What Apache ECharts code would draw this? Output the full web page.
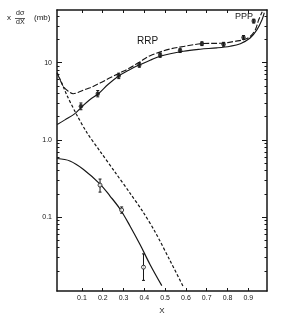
<!DOCTYPE html>
<html><head><meta charset="utf-8">
<script src="https://cdn.jsdelivr.net/npm/echarts@6/dist/echarts.min.js"></script>
<style>html,body{margin:0;padding:0;background:#fff}#c{width:297px;height:320px}</style>
</head><body><div id="c"></div>
<script>
// ---- data ----
const xTickValues = [0.1,0.2,0.3,0.4,0.5,0.6,0.7,0.8,0.9];
const xTickLabels = ['0.1','0.2','0.3','0.4','0.5','0.6','0.7','0.8','0.9'];
const yMajorValues = [0.1, 1, 10];
const yMajorLabels = ['0.1', '1.0', '10'];
const yMinorValues = [0.02,0.03,0.04,0.05,0.06,0.07,0.08,0.09,0.2,0.3,0.4,0.5,0.6,0.7,0.8,0.9,2,3,4,5,6,7,8,9,20,30,40];

// upper long-dashed curve
const upperDashX = [-0.019,0.010,0.034,0.058,0.081,0.110,0.139,0.187,0.235,0.283,0.331,0.380,0.428,0.524,0.596,0.677,0.781,0.837,0.877,0.909,0.934,0.950,0.967];
const upperDashY = [7.36,4.94,4.26,3.95,4.10,4.42,4.72,5.44,6.35,7.36,8.55,10.3,12.3,15.0,16.3,17.6,17.9,18.9,19.8,21.8,26.7,35.9,45.5];
// upper solid curve
const upperSolidX = [-0.019,0.018,0.066,0.099,0.139,0.179,0.225,0.275,0.322,0.371,0.428,0.476,0.588,0.669,0.749,0.813,0.862,0.909,0.942,0.966,0.977];
const upperSolidY = [1.58,1.81,2.18,2.67,3.33,3.95,5.20,6.66,7.88,9.23,10.7,12.1,14.0,14.9,15.5,16.3,17.6,20.8,26.7,35.9,44.2];
// steep short-dashed curve
const steepDashX = [-0.019,0.004,0.026,0.074,0.123,0.187,0.259,0.331,0.394,0.452,0.524,0.588];
const steepDashY = [7.36,5.36,3.86,2.13,1.25,0.711,0.381,0.204,0.116,0.064,0.0271,0.0124];
// lower solid curve
const lowerSolidX = [-0.019,0.042,0.106,0.187,0.235,0.283,0.331,0.380,0.428,0.484];
const lowerSolidY = [0.572,0.532,0.416,0.267,0.187,0.127,0.0766,0.0436,0.0241,0.0129];

// filled data points with error bars
const upperPtX  = [0.095,0.176,0.277,0.376,0.476,0.572,0.677,0.781,0.877,0.926];
const upperPtY  = [2.71,3.95,6.74,9.34,12.5,14.3,17.6,17.3,21.2,34.5];
const upperPtLo = [2.45,3.60,6.20,8.70,11.7,13.5,16.6,16.3,20.0,32.5];
const upperPtHi = [3.00,4.35,7.30,10.0,13.3,15.1,18.6,18.3,22.4,36.5];
// open data points with error bars
const lowerPtX  = [0.187,0.291,0.396];
const lowerPtY  = [0.259,0.123,0.0224];
const lowerPtLo = [0.210,0.112,0.0151];
const lowerPtHi = [0.310,0.135,0.0333];

const zip = (a,b) => a.map((v,i)=>[v,b[i]]);
const zip3 = (a,b,c) => a.map((v,i)=>[v,b[i],c[i]]);

const FONT = 'Liberation Sans, DejaVu Sans, sans-serif';
const INK = '#161616';

const chart = echarts.init(document.getElementById('c'), null, {renderer:'canvas'});

function fmtY(v){
  const lv = Math.round(Math.log10(v));
  const i = yMajorValues.findIndex(m => Math.round(Math.log10(m)) === lv);
  return i >= 0 ? yMajorLabels[i] : '';
}
function fmtX(v){
  const i = xTickValues.findIndex(m => Math.abs(m - v) < 1e-6);
  return i >= 0 ? xTickLabels[i] : '';
}

const baseX = {type:'value', min:-0.02, max:0.99, splitLine:{show:false}};
const baseY = {type:'log', logBase:10, min:0.011, max:48, splitLine:{show:false}};
const lineStyleAxis = {color:INK, width:1.5};

const errRender = (capW) => function(params, api){
  const x = api.value(0), lo = api.value(1), hi = api.value(2);
  const p1 = api.coord([x, lo]); const p2 = api.coord([x, hi]);
  const st = {stroke:INK, lineWidth:1};
  return {type:'group', children:[
    {type:'line', shape:{x1:p1[0],y1:p1[1],x2:p2[0],y2:p2[1]}, style:st},
    {type:'line', shape:{x1:p1[0]-capW,y1:p1[1],x2:p1[0]+capW,y2:p1[1]}, style:st},
    {type:'line', shape:{x1:p2[0]-capW,y1:p2[1],x2:p2[0]+capW,y2:p2[1]}, style:st}
  ]};
};

chart.setOption({
  animation:false,
  backgroundColor:'#fff',
  grid:{left:57, right:30, top:10, bottom:29, containLabel:false},
  xAxis:[
    Object.assign({}, baseX, {
      position:'bottom',
      axisLine:{show:true, onZero:false, lineStyle:lineStyleAxis},
      axisTick:{show:true, inside:true, length:3, customValues:xTickValues, lineStyle:{color:INK, width:1}},
      axisLabel:{show:true, customValues:xTickValues, formatter:fmtX, fontSize:7, color:INK, fontFamily:FONT, margin:4},
      name:'X', nameLocation:'middle', nameGap:13, nameTextStyle:{fontSize:8, color:INK, fontFamily:FONT}
    }),
    Object.assign({}, baseX, {
      position:'top',
      axisLine:{show:true, onZero:false, lineStyle:lineStyleAxis},
      axisTick:{show:true, inside:true, length:3, customValues:xTickValues, lineStyle:{color:INK, width:1}},
      axisLabel:{show:false}
    })
  ],
  yAxis:[
    Object.assign({}, baseY, {
      position:'left',
      axisLine:{show:true, onZero:false, lineStyle:lineStyleAxis},
      axisTick:{show:true, inside:true, length:5, customValues:yMajorValues, lineStyle:{color:INK, width:1}},
      axisLabel:{show:true, customValues:yMajorValues, formatter:fmtY, fontSize:7, color:INK, fontFamily:FONT, margin:5}
    }),
    Object.assign({}, baseY, {
      position:'left',
      axisLine:{show:false, onZero:false},
      axisTick:{show:true, inside:true, length:2.5, customValues:yMinorValues, lineStyle:{color:INK, width:1}},
      axisLabel:{show:false}
    }),
    Object.assign({}, baseY, {
      position:'right',
      axisLine:{show:true, onZero:false, lineStyle:lineStyleAxis},
      axisTick:{show:true, inside:true, length:5, customValues:yMajorValues, lineStyle:{color:INK, width:1}},
      axisLabel:{show:false}
    }),
    Object.assign({}, baseY, {
      position:'right',
      axisLine:{show:false, onZero:false},
      axisTick:{show:true, inside:true, length:2.5, customValues:yMinorValues, lineStyle:{color:INK, width:1}},
      axisLabel:{show:false}
    })
  ],
  series:[
    {type:'line', data:zip(upperDashX, upperDashY), smooth:0.35, showSymbol:false,
     lineStyle:{color:INK, width:1.1, type:[6,2]}},
    {type:'line', data:zip(upperSolidX, upperSolidY), smooth:0.35, showSymbol:false,
     lineStyle:{color:INK, width:1.1}},
    {type:'line', data:zip(steepDashX, steepDashY), smooth:0.3, showSymbol:false,
     lineStyle:{color:INK, width:1.2, type:[3,2]}},
    {type:'line', data:zip(lowerSolidX, lowerSolidY), smooth:0.35, showSymbol:false,
     lineStyle:{color:INK, width:1.2}},
    {type:'custom', data:zip3(upperPtX, upperPtLo, upperPtHi), renderItem:errRender(1.5),
     encode:{x:0, y:[1,2]}, z:3},
    {type:'custom', data:zip3(lowerPtX, lowerPtLo, lowerPtHi), renderItem:errRender(1.5),
     encode:{x:0, y:[1,2]}, z:3},
    {type:'scatter', data:zip(upperPtX, upperPtY), symbol:'circle', symbolSize:4.5,
     itemStyle:{color:INK}, z:4},
    {type:'scatter', data:zip(lowerPtX, lowerPtY), symbol:'circle', symbolSize:4,
     itemStyle:{color:'#fff', borderColor:INK, borderWidth:1}, z:4}
  ],
  graphic:[
    {type:'text', left:137, top:36, style:{text:'RRP', font:'10px '+FONT, fill:INK}},
    {type:'text', left:235, top:12, style:{text:'PPP', font:'9px '+FONT, fill:INK}},
    {type:'text', left:7, top:14, style:{text:'x', font:'8px '+FONT, fill:INK}},
    {type:'text', left:16, top:10, style:{text:'dσ', font:'7px '+FONT, fill:INK}},
    {type:'line', shape:{x1:15, y1:18.5, x2:25, y2:18.5}, style:{stroke:INK, lineWidth:0.7}},
    {type:'text', left:16, top:19, style:{text:'dX', font:'7px '+FONT, fill:INK}},
    {type:'text', left:34, top:14, style:{text:'(mb)', font:'8px '+FONT, fill:INK}}
  ]
});
</script>
</body></html>
